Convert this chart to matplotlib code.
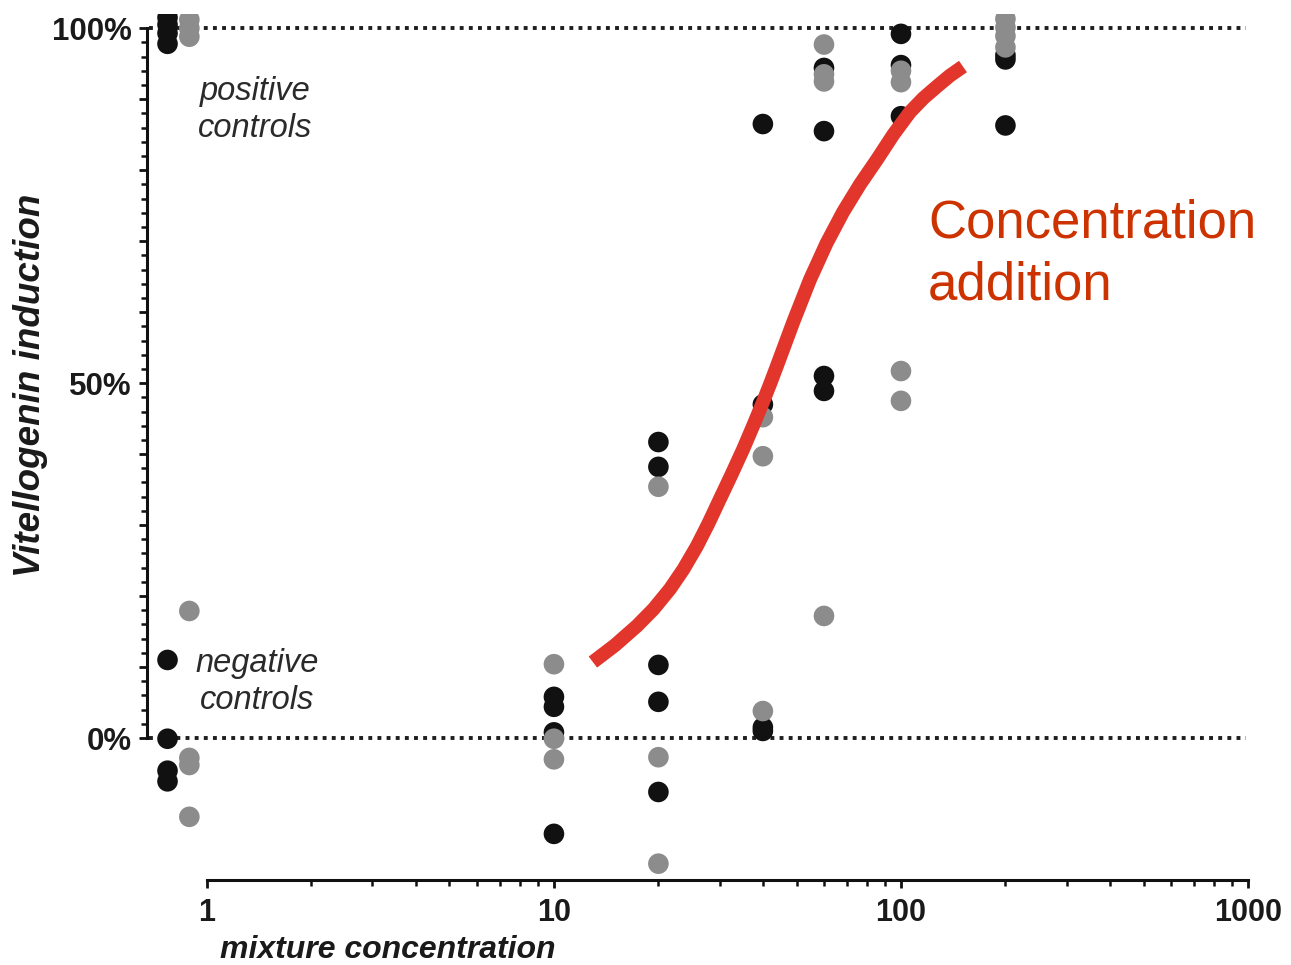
import matplotlib
matplotlib.use("Agg")
from matplotlib import pyplot as plt
from matplotlib.ticker import FixedLocator, FixedFormatter

plt.rcParams['font.family'] = ['Liberation Sans', 'DejaVu Sans']

# black dots (first series)
black_x = [0.77, 0.77, 0.77, 0.77,
           0.77, 0.77, 0.77, 0.77,
           10, 10, 10, 10,
           20, 20, 20, 20, 20,
           40, 40, 40, 40,
           60, 60, 60, 60,
           100, 100, 100,
           200, 200, 200]
black_y = [101.5, 100.5, 99.3, 97.8,
           11.0, -0.1, -4.6, -6.1,
           5.8, 4.4, 0.8, -13.5,
           41.7, 38.2, 10.3, 5.1, -7.6,
           86.5, 47.0, 1.5, 1.0,
           94.4, 85.5, 51.0, 48.9,
           99.2, 94.8, 87.6,
           96.2, 95.6, 86.3]

# grey dots (second series)
grey_x = [0.89, 0.89, 0.89,
          0.89, 0.89, 0.89, 0.89,
          10, 10, 10,
          20, 20, 20,
          40, 40, 40,
          60, 60, 60, 60,
          100, 100, 100, 100,
          200, 200, 200, 200]
grey_y = [101.2, 100.0, 98.8,
          17.9, -2.8, -3.8, -11.1,
          10.4, -0.1, -3.0,
          35.4, -2.7, -17.7,
          45.2, 39.7, 3.8,
          97.7, 93.5, 92.5, 17.2,
          94.0, 92.4, 51.7, 47.5,
          101.3, 100.1, 98.9, 97.3]

# concentration addition prediction
ca_x = [12.95, 14.99, 17.35, 19.35, 21.6, 23.62, 25.8, 27.88, 30.1, 32.48,
        35.1, 37.46, 40.0, 41.93, 43.9, 49.0, 54.7, 61.0, 68.1, 76.2,
        85.3, 95.1, 106.2, 116.1, 127.0, 138.4, 150.9]
ca_y = [10.7, 13.07, 15.8, 18.15, 21.0, 23.79, 27.0, 30.24, 33.7, 37.11,
        40.7, 43.94, 47.3, 49.83, 52.4, 58.68, 64.6, 69.68, 74.1, 78.0,
        81.5, 85.03, 88.2, 90.15, 91.8, 93.32, 94.6]

y_ticks = list(range(0, 101, 10))
y_tick_labels = ['0%', '', '', '', '', '50%', '', '', '', '', '100%']
x_ticks = [1, 10, 100, 1000]
x_tick_labels = ['1', '10', '100', '1000']

W, H = 1291, 965
fig = plt.figure(figsize=(W / 100, H / 100), dpi=100)
ax = fig.add_axes([147 / W, 85 / H, 1101 / W, 866 / H])
ax.set_xscale('log')
ax.set_xlim(0.672, 1000)
ax.set_ylim(-20, 102)

for lev in (0, 100):
    ax.hlines(lev, 0.68, 985, colors='#1e1e1e', linewidth=2.8,
              linestyles=(0, (1, 1.35)), zorder=1)

ax.scatter(black_x, black_y, s=220, color='#111111', edgecolors='none', zorder=3)
ax.scatter(grey_x, grey_y, s=220, color='#8c8c8c', edgecolors='none', zorder=4)
ax.plot(ca_x, ca_y, color='#e2352b', linewidth=10, solid_capstyle='butt',
        solid_joinstyle='round', zorder=5)

for side in ('top', 'right'):
    ax.spines[side].set_visible(False)
ax.spines['left'].set_bounds(0, 100)
ax.spines['bottom'].set_bounds(1, 1000)
for side in ('left', 'bottom'):
    ax.spines[side].set_linewidth(2.2)
    ax.spines[side].set_color('#111111')

ax.yaxis.set_major_locator(FixedLocator(y_ticks))
ax.yaxis.set_major_formatter(FixedFormatter(y_tick_labels))
ax.yaxis.set_minor_locator(FixedLocator(list(range(0, 101, 2))))
ax.xaxis.set_major_locator(FixedLocator(x_ticks))
ax.xaxis.set_major_formatter(FixedFormatter(x_tick_labels))
ax.xaxis.set_minor_locator(FixedLocator([m * 10 ** e for e in range(3) for m in range(2, 10)]))
ax.xaxis.set_minor_formatter(FixedFormatter([]))

ax.tick_params(which='major', direction='out', length=6, width=2, color='#111111',
               labelcolor='#1a1a1a')
ax.tick_params(which='minor', direction='out', length=4, width=1.8, color='#111111')
ax.tick_params(axis='y', which='major', pad=5, labelsize=22.5)
ax.tick_params(axis='x', which='major', pad=7, labelsize=22)
for lab in ax.get_xticklabels() + ax.get_yticklabels():
    lab.set_fontweight('bold')

fig.text(388 / W, 1 - 950 / H, 'mixture concentration', ha='center', va='center',
         fontsize=23, fontweight='bold', fontstyle='italic', color='#1a1a1a')
fig.text(31 / W, 1 - 385 / H, 'Vitellogenin induction', ha='center', va='center',
         rotation=90, fontsize=26.5, fontweight='bold', fontstyle='italic', color='#1a1a1a')

fig.text(255 / W, 1 - 110 / H, 'positive\ncontrols', ha='center', va='center',
         multialignment='center', linespacing=1.25, fontsize=23.5,
         fontstyle='italic', color='#2a2a2a')
fig.text(257 / W, 1 - 682 / H, 'negative\ncontrols', ha='center', va='center',
         multialignment='center', linespacing=1.25, fontsize=23.5,
         fontstyle='italic', color='#2a2a2a')

fig.text(928 / W, 1 - 198 / H, 'Concentration\naddition', ha='left', va='top',
         linespacing=1.32, fontsize=38, color='#cc3300')

fig.savefig('out.png', dpi=100, facecolor='white')
